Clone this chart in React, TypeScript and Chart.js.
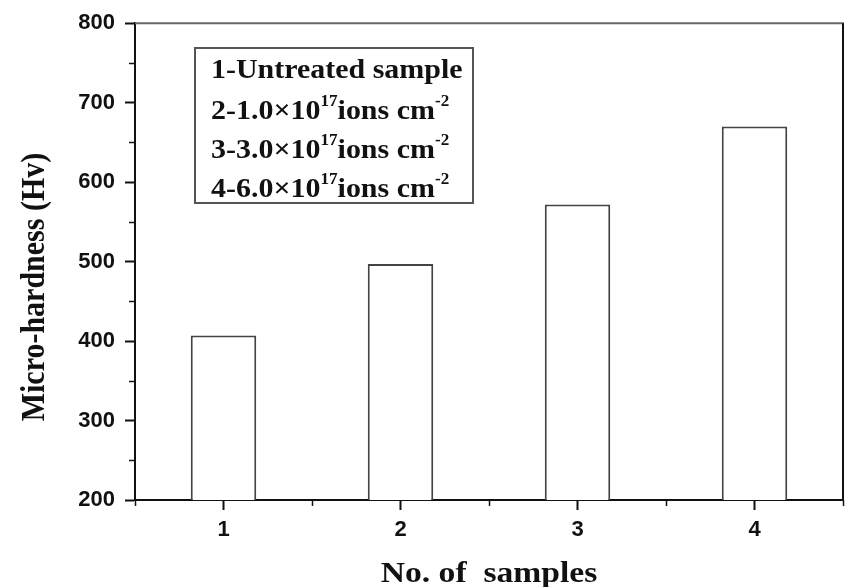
import React, { useEffect, useRef } from "react";
import { Chart, registerables } from "chart.js";

Chart.register(...registerables);

const categories = ["1", "2", "3", "4"];
const hardness = [407, 497, 572, 670];
const yMajorTicks = [200, 300, 400, 500, 600, 700, 800];
const yMinorTicks = [250, 350, 450, 550, 650, 750];
const xMinorTicks = [-0.5, 0.5, 1.5, 2.5, 3.5];
const legendLines = [
  [{ t: "1-Untreated sample", sup: false }],
  [{ t: "2-1.0×10", sup: false }, { t: "17", sup: true }, { t: "ions cm", sup: false }, { t: "-2", sup: true }],
  [{ t: "3-3.0×10", sup: false }, { t: "17", sup: true }, { t: "ions cm", sup: false }, { t: "-2", sup: true }],
  [{ t: "4-6.0×10", sup: false }, { t: "17", sup: true }, { t: "ions cm", sup: false }, { t: "-2", sup: true }],
];
const xTitle = "No. of  samples";
const yTitle = "Micro-hardness (Hv)";

const SERIF = "'Liberation Serif', 'Times New Roman', serif";
const SANS = "'Liberation Sans', Arial, sans-serif";
const INK = "#111";

const decorPlugin = {
  id: "decor",
  afterDraw(chart: any) {
    const ctx = chart.ctx;
    const { left, right, top, bottom } = chart.chartArea;
    const xs = chart.scales.x;
    const ys = chart.scales.y;
    ctx.save();
    // frame top/right
    ctx.lineWidth = 2;
    ctx.strokeStyle = "#666";
    ctx.beginPath();
    ctx.moveTo(left, top);
    ctx.lineTo(right + 1, top);
    ctx.stroke();
    ctx.strokeStyle = INK;
    ctx.beginPath();
    ctx.moveTo(right, top);
    ctx.lineTo(right, bottom);
    ctx.stroke();
    // minor ticks
    ctx.lineWidth = 1.5;
    ctx.strokeStyle = INK;
    yMinorTicks.forEach((v) => {
      const py = Math.round(ys.getPixelForValue(v)) + 0.5;
      ctx.beginPath();
      ctx.moveTo(left - 6, py);
      ctx.lineTo(left, py);
      ctx.stroke();
    });
    xMinorTicks.forEach((v) => {
      const px = Math.round(xs.getPixelForValue(v)) + 0.5;
      ctx.beginPath();
      ctx.moveTo(px, bottom);
      ctx.lineTo(px, bottom + 6);
      ctx.stroke();
    });
    // legend box
    ctx.lineWidth = 2;
    ctx.strokeStyle = "#555";
    ctx.strokeRect(195, 48, 278, 155);
    ctx.fillStyle = INK;
    ctx.textBaseline = "alphabetic";
    ctx.textAlign = "left";
    const baselines = [78, 119, 158, 197];
    legendLines.forEach((segs, i) => {
      ctx.save();
      ctx.translate(211, baselines[i]);
      ctx.scale(1.07, 1);
      let cx = 0;
      segs.forEach((s) => {
        ctx.font = s.sup ? `bold 16px ${SERIF}` : `bold 28px ${SERIF}`;
        ctx.fillText(s.t, cx, s.sup ? -13 : 0);
        cx += ctx.measureText(s.t).width;
      });
      ctx.restore();
    });
    // axis titles
    ctx.font = `bold 30px ${SERIF}`;
    ctx.textAlign = "center";
    ctx.textBaseline = "middle";
    ctx.save();
    ctx.translate((left + right) / 2, 574);
    ctx.scale(1.12, 1);
    ctx.fillText(xTitle, 0, 0);
    ctx.restore();
    ctx.save();
    ctx.translate(35, 287);
    ctx.rotate(-Math.PI / 2);
    ctx.scale(1, 1.12);
    ctx.fillText(yTitle, 0, 0);
    ctx.restore();
    ctx.restore();
  },
};

export default function App() {
  const ref = useRef<HTMLCanvasElement>(null);
  useEffect(() => {
    const chart = new Chart(ref.current!, {
      type: "bar",
      data: {
        labels: categories,
        datasets: [
          {
            data: hardness,
            backgroundColor: "#ffffff",
            borderColor: "#444",
            borderWidth: 2,
            barPercentage: 0.37,
            categoryPercentage: 1,
          },
        ],
      },
      options: {
        responsive: false,
        animation: false,
        layout: { padding: { top: 20, right: 9, bottom: 0, left: 0 } },
        plugins: { legend: { display: false }, tooltip: { enabled: false } },
        scales: {
          x: {
            type: "category",
            offset: true,
            afterFit: (s: any) => {
              s.height = 87;
            },
            grid: {
              display: true,
              offset: false,
              drawOnChartArea: false,
              drawTicks: true,
              tickLength: 10,
              tickWidth: 2,
              tickColor: INK,
            },
            border: { display: true, color: INK, width: 2 },
            ticks: { color: INK, padding: 7, font: { family: SANS, size: 22, weight: "bold" } },
          },
          y: {
            min: 200,
            max: 800,
            afterFit: (s: any) => {
              s.width = 135;
            },
            afterBuildTicks: (s: any) => {
              s.ticks = yMajorTicks.map((v) => ({ value: v }));
            },
            grid: {
              display: true,
              drawOnChartArea: false,
              drawTicks: true,
              tickLength: 10,
              tickWidth: 2,
              tickColor: INK,
            },
            border: { display: true, color: INK, width: 2 },
            ticks: { color: INK, padding: 10, font: { family: SANS, size: 22, weight: "bold" } },
          },
        },
      },
      plugins: [decorPlugin],
    });
    return () => chart.destroy();
  }, []);
  return (
    <div style={{ position: "absolute", left: 0, top: 0, width: 852, height: 587, background: "#fff" }}>
      <canvas ref={ref} width={852} height={587} style={{ display: "block" }} />
    </div>
  );
}
